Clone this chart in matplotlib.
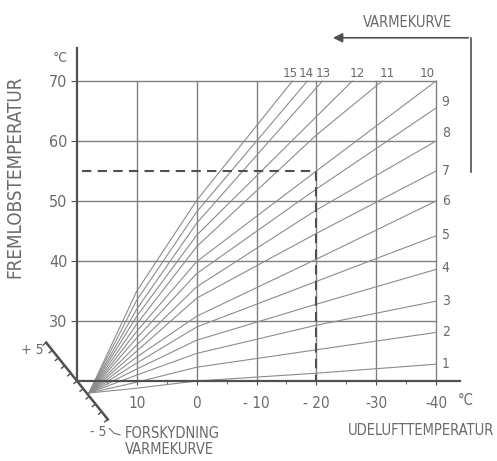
import numpy as np
import matplotlib.pyplot as plt
from matplotlib import font_manager

# heating curves 1..15, all start from a common point near the lower left corner
curve_no = list(range(1, 16))
start_x, start_y = 18.0, 18.0
y_at_10 = [18.8, 19.8, 21.0, 22.0, 23.0, 24.0, 25.0, 26.0, 27.2, 28.3, 29.5, 30.8, 32.0, 33.5, 35.0]
y_at_0 = [20.0, 22.3, 24.6, 26.8, 29.0, 30.8, 33.8, 35.7, 37.9, 39.9, 42.4, 44.3, 46.3, 48.2, 50.1]
y_at_m20 = [21.3, 25.2, 29.3, 32.8, 36.6, 40.3, 44.6, 48.5, 52.0, 55.0, 61.0]   # curves 1-11
end_x = [-40] * 10 + [-31, -26, -21, -18.5, -16]
end_y = [22.8, 28.1, 33.3, 38.6, 44.2, 50.0, 55.0, 60.0, 65.5, 70, 70, 70, 70, 70, 70]

# curve numbers written at the right side (1-9) and along the top (10-15)
right_label_y = [22.8, 28.2, 33.3, 38.8, 44.3, 50.0, 55.0, 61.3, 66.5]
top_label_x = [-38.5, -31.8, -26.8, -21.2, -18.3, -15.6]

y_ticks = [30, 40, 50, 60, 70]
x_ticks = [10, 0, -10, -20, -30, -40]
x_tick_labels = ['10', '0', '- 10', '- 20', '-30', '-40']

# worked example: -20 outside gives 55 flow temperature
ex_out, ex_flow = -20, 55

# a narrow sans looks closest to the scanned lettering; use one if there is one
narrow = None
for f in font_manager.fontManager.ttflist:
    if 'condensed' in str(f.stretch) or 'Narrow' in f.name:
        if f.name in ('Liberation Sans Narrow', 'DejaVu Sans', 'Roboto Condensed',
                      'Open Sans Condensed', 'Roboto', 'Open Sans', 'Noto Sans'):
            narrow = f
            break
if narrow is not None:
    plt.rcParams['font.family'] = [narrow.name, 'DejaVu Sans']
    plt.rcParams['font.stretch'] = narrow.stretch
    k = 1.0
else:
    plt.rcParams['font.family'] = ['Liberation Sans', 'DejaVu Sans']
    k = 0.88

txt = '#6a6a6a'
dark = '#505050'

fig = plt.figure(figsize=(4.97, 4.61), dpi=100)
ax = fig.add_axes([77/497, 80/461, 383/497, 333/461])
ax.set_xlim(20, -44)
ax.set_ylim(20, 75.5)

for s in ['top', 'right']:
    ax.spines[s].set_visible(False)
for s in ['left', 'bottom']:
    ax.spines[s].set_color(dark)
    ax.spines[s].set_linewidth(1.6)

ax.set_yticks(y_ticks)
ax.set_xticks(x_ticks)
ax.set_xticklabels(x_tick_labels)
ax.set_xticks(np.arange(15, -40, -10), minor=True)
ax.tick_params(axis='both', which='both', direction='out', color=dark, labelcolor=txt)
ax.tick_params(axis='y', length=4, pad=3, labelsize=11.5 * k)
ax.tick_params(axis='x', which='major', length=3, pad=8, labelsize=11 * k)
ax.tick_params(axis='x', which='minor', length=2.5)

# grid inside the box
for yv in y_ticks:
    ax.plot([20, -40], [yv, yv], color='#808080', lw=1.0, zorder=1)
for xv in x_ticks:
    ax.plot([xv, xv], [20, 70], color='#808080', lw=1.0, zorder=1)

# heating curves
for i in range(15):
    xs = [start_x, 10, 0]
    ys = [start_y, y_at_10[i], y_at_0[i]]
    if i < len(y_at_m20):
        xs.append(-20)
        ys.append(y_at_m20[i])
    xs.append(end_x[i])
    ys.append(end_y[i])
    ax.plot(xs, ys, color='#8c8c8c', lw=0.8, zorder=2, clip_on=False)

for n, yv in zip(curve_no[:9], right_label_y):
    ax.text(-41.6, yv, str(n), color=txt, fontsize=10 * k, ha='center', va='center')
for n, xv in zip(curve_no[9:], top_label_x):
    ax.text(xv, 71.3, str(n), color=txt, fontsize=9.5 * k, ha='center', va='center')

# dashed reading example
ax.plot([19.2, ex_out, ex_out], [ex_flow, ex_flow, 20], color=dark, lw=1.5,
        dashes=(4.5, 3), zorder=3)

# unit labels and axis titles
ax.text(22.8, 73.8, '°C', color=txt, fontsize=10 * k, ha='center', va='center', clip_on=False)
ax.text(-44.9, 16.8, '°C', color=txt, fontsize=10.5 * k, ha='center', va='center', clip_on=False)
ax.text(30.4, 54.0, 'FREMLOBSTEMPERATUR', color=txt, fontsize=13.5 * k, rotation=90,
        ha='center', va='center')
ax.text(-37.5, 11.7, 'UDELUFTTEMPERATUR', color=txt, fontsize=10.5 * k, ha='center', va='center')
ax.text(12.0, 11.3, 'FORSKYDNING', color=txt, fontsize=10.5 * k, ha='left', va='center')
ax.text(12.0, 8.6, 'VARMEKURVE', color=txt, fontsize=10.5 * k, ha='left', va='center')

# VARMEKURVE arrow at the top right
ax.plot([-45.85, -45.85], [54.8, 77.2], color=dark, lw=1.2, clip_on=False)
ax.annotate('', xy=(-22.3, 77.2), xytext=(-45.85, 77.2),
            arrowprops=dict(arrowstyle='-|>', color=dark, lw=1.2, mutation_scale=14),
            annotation_clip=False)
ax.text(-35.2, 79.8, 'VARMEKURVE', color=txt, fontsize=10.5 * k, ha='center', va='center')

# diagonal scale for parallel shift of the curve (+5 .. -5)
shift = np.arange(5, -6, -1)
step = np.array([1.03, 1.28])
pts = np.array([[20, 20]]) + shift[:, None] * step
ax.plot(pts[:, 0], pts[:, 1], color=dark, lw=1.8, clip_on=False, zorder=4)
disp = ax.transData.transform(pts)
perp = np.array([-0.779, -0.627])
ends = ax.transData.inverted().transform(disp + 4 * perp)
for p, e in zip(pts, ends):
    ax.plot([p[0], e[0]], [p[1], e[1]], color=dark, lw=1.0, clip_on=False)
ax.text(27.4, 25.2, '+ 5', color=txt, fontsize=10 * k, ha='center', va='center')
ax.text(16.5, 11.5, '- 5', color=txt, fontsize=10 * k, ha='center', va='center')
ax.plot([14.6, 13.8, 12.8], [12.1, 11.3, 11.0], color=txt, lw=0.8, clip_on=False)

fig.savefig('out.png', dpi=100)
